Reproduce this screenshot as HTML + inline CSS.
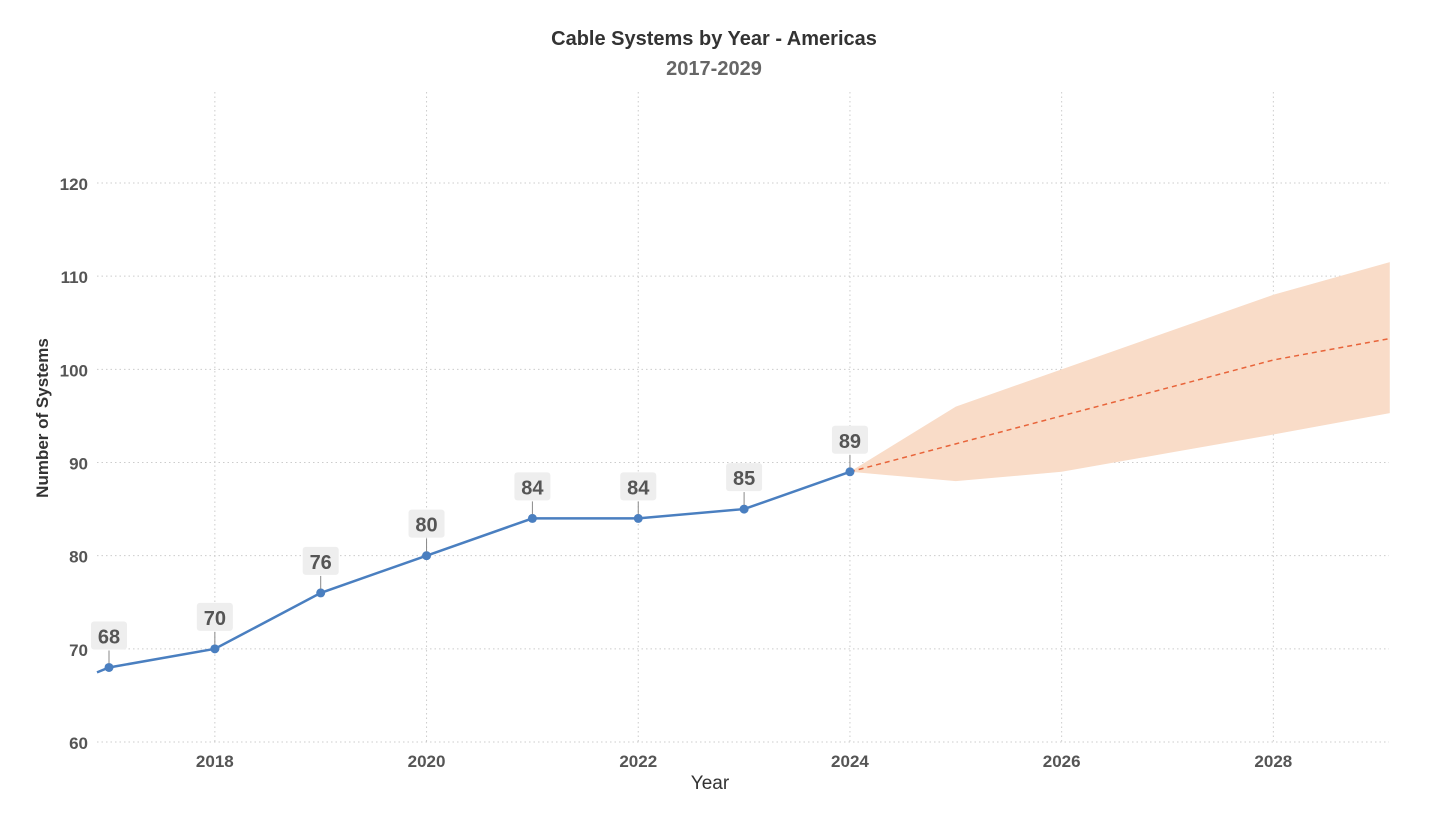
<!DOCTYPE html>
<html><head><meta charset="utf-8"><style>
body{margin:0;background:#fff;font-family:"Liberation Sans",sans-serif}
svg text{font-family:"Liberation Sans",sans-serif}
</style></head><body>
<svg id="chart" width="1429" height="825">
<text x="714" y="45" text-anchor="middle" font-size="20" font-weight="bold" fill="#333">Cable Systems by Year - Americas</text>
<text x="714" y="75" text-anchor="middle" font-size="20" font-weight="bold" fill="#666">2017-2029</text>
<text x="710" y="789" text-anchor="middle" font-size="19" fill="#333">Year</text>
<text transform="translate(48,418) rotate(-90)" text-anchor="middle" font-size="17" font-weight="bold" fill="#333">Number of Systems</text>
<g id="grid"></g><g id="marks"></g>
</svg>
<script>
const years=[2017,2018,2019,2020,2021,2022,2023,2024];
const values=[68,70,76,80,84,84,85,89];
const fcYears=[2024,2025,2026,2027,2028,2029.1];
const fcMid=[89,92,95,98,101,103.3];
const fcUpper=[89,96,100,104,108,111.5];
const fcLower=[89,88,89,91,93,95.3];
const xTicks=[2018,2020,2022,2024,2026,2028];
const yTicks=[60,70,80,90,100,110,120];
const NS='http://www.w3.org/2000/svg';
const x=v=>109+(v-2017)*105.85;
const y=v=>742-(v-60)*9.317;
const X0=97,X1=1389;
function mk(t,a,p){const e=document.createElementNS(NS,t);for(const k in a)e.setAttribute(k,a[k]);p.appendChild(e);return e;}
const g=document.getElementById('grid'),m=document.getElementById('marks');
yTicks.forEach(v=>{
 const l=mk('line',{x1:X0,x2:X1,y1:y(v),y2:y(v),stroke:'#ccc','stroke-dasharray':'1.5 3'},g);
 
 
 const t=mk('text',{x:88,y:y(v)+7,'text-anchor':'end','font-size':17,'font-weight':'bold',fill:'#555'},g);t.textContent=v;
 
 
});
xTicks.forEach(v=>{
 const l=mk('line',{x1:x(v),x2:x(v),y1:92,y2:742,stroke:'#ccc','stroke-dasharray':'1.5 3'},g);
 
 
 const t=mk('text',{x:x(v),y:767,'text-anchor':'middle','font-size':17,'font-weight':'bold',fill:'#555'},g);t.textContent=v;
 
 
});
let d='';fcYears.forEach((v,i)=>d+=(i?'L':'M')+x(v)+','+y(fcUpper[i]));
for(let i=fcYears.length-1;i>=0;i--)d+='L'+x(fcYears[i])+','+y(fcLower[i]);
const band=mk('path',{d:d+'Z',fill:'#f9dcc8'},m);


const fl=mk('polyline',{points:fcYears.map((v,i)=>x(v)+','+y(fcMid[i])).join(' '),fill:'none',stroke:'#e8643a','stroke-width':1.5,'stroke-dasharray':'5 4'},m);


const s=(values[1]-values[0]);const v0=values[0]-s*(x(2017)-X0)/105.85-0.3;
const pts=[X0+','+y(v0)].concat(years.map((v,i)=>x(v)+','+y(values[i])));
const ln=mk('polyline',{points:pts.join(' '),fill:'none',stroke:'#4a7fc0','stroke-width':2.5},m);


years.forEach((v,i)=>{
 const cx=x(v),cy=y(values[i]);
 const c=mk('circle',{cx,cy,r:4.5,fill:'#4a7fc0'},m);
 
 
 mk('line',{x1:cx,x2:cx,y1:cy-4,y2:cy-17,stroke:'#888','stroke-width':1},m);
 const r=mk('rect',{x:cx-18,y:cy-46,width:36,height:28,rx:3,fill:'#eeeeee'},m);
 
 
 const t=mk('text',{x:cx,y:cy-24,'text-anchor':'middle','font-size':20,'font-weight':'bold',fill:'#555'},m);t.textContent=values[i];
 
 
});
</script>
</body></html>
